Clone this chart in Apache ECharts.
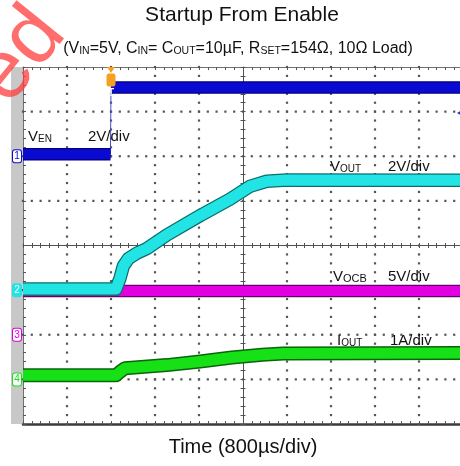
<!DOCTYPE html>
<html><head><meta charset="utf-8">
<script src="https://cdn.jsdelivr.net/npm/echarts@6/dist/echarts.min.js"></script>
<style>html,body{margin:0;padding:0;background:#fff}#c{width:460px;height:466px}</style>
</head><body><div id="c"></div>
<script>
// ---- Time base: µs relative to trigger, 800 µs/div ----
const timeMin = -1600, timeMax = 6400, timeStep = 800;
const vDivMin = -4, vDivMax = 4;
const timeDivLines = [-800, 0, 800, 1600, 3200, 4000, 4800, 5600];
const vDivLines = [-3, -2, -1, 1, 2, 3];
const minorPerDiv = 5;

// ---- Channel 1: V_EN (V), 2V/div ----
const venTime = [-1600, -10, 0, 6400];
const venV    = [0.09, 0.09, 3.08, 3.08];
// ---- Channel 2: V_OUT (V), 2V/div ----
const voutTime = [-1600, 90, 165, 225, 315, 465, 650, 1015, 1620, 2165, 2525, 2830, 3195, 6400];
const voutV    = [0.05, 0.05, 0.54, 1.08, 1.41, 1.65, 1.86, 2.47, 3.34, 4.08, 4.65, 4.88, 4.94, 4.92];
// ---- Channel 3: V_OCB (V), 5V/div ----
const vocbTime = [-1600, 6400];
const vocbV    = [4.9, 4.9];
// ---- Channel 4: I_OUT (A), 1A/div ----
const ioutTime = [-1600, 90, 165, 255, 1015, 1620, 2200, 2750, 3130, 6400];
const ioutA    = [0.09, 0.09, 0.17, 0.25, 0.32, 0.40, 0.49, 0.55, 0.58, 0.59];

// ---- Channel settings ----
const chNames  = ['1', '2', '3', '4'];
const chScale  = [2, 2, 5, 1];        // units per division
const chOffset = [2, -1, -2, -3];     // ground marker, divisions from screen centre
const triggerTime = 0;
const triggerLevelV = 1.94;

const FONT = 'Liberation Sans, Arial, sans-serif';
const fills    = ['#0a0ad2', '#22e4e4', '#e000e0', '#16e016'];
const outlines = ['#00007a', '#0a6e6e', '#6a006a', '#0a640a'];

function toDiv(ch, v) { return chOffset[ch] + v / chScale[ch]; }
function pts(ch, ts, vs) { return ts.map((t, i) => [t, toDiv(ch, vs[i])]); }
function splitSteps(p) {
  const out = [];
  p.forEach((q, i) => {
    if (i > 0 && Math.abs(q[1] - p[i - 1][1]) > 0.5 && Math.abs(q[0] - p[i - 1][0]) < 50) {
      out.push([(q[0] + p[i - 1][0]) / 2, '-']);
    }
    out.push(q);
  });
  return out;
}
function trace(name, data, color, width) {
  return {
    name, type: 'line', data, xAxisIndex: 0, yAxisIndex: 1,
    showSymbol: false, symbol: 'none', silent: true, animation: false,
    connectNulls: false,
    lineStyle: { color, width, cap: 'butt', join: 'round' }
  };
}

// graticule dots at 1/5-division steps along each division line
const gratDots = [];
timeDivLines.forEach(t => {
  for (let k = 0; k <= (vDivMax - vDivMin) * minorPerDiv; k++) gratDots.push([t, vDivMin + k / minorPerDiv]);
});
vDivLines.forEach(v => {
  const n = (timeMax - timeMin) / timeStep * minorPerDiv;
  for (let k = 0; k <= n; k++) gratDots.push([timeMin + k * timeStep / minorPerDiv, v]);
});

const venPts = pts(0, venTime, venV);
const voutPts = pts(1, voutTime, voutV);
const vocbPts = pts(2, vocbTime, vocbV);
const ioutPts = pts(3, ioutTime, ioutA);

const series = [
  { name: 'graticule', type: 'scatter', data: gratDots, xAxisIndex: 0, yAxisIndex: 1,
    symbol: 'rect', symbolSize: 2.2, silent: true, animation: false, z: 1,
    itemStyle: { color: '#555555', opacity: 1 } },
  trace('VEN edge', venPts, '#4a4ac8', 1),
  trace('VEN o', splitSteps(venPts), outlines[0], 12.5),
  Object.assign(trace('VEN', splitSteps(venPts), fills[0], 10), {
    markPoint: {
      silent: true, animation: false,
      data: [
        { coord: [triggerTime, vDivMax], symbol: 'triangle', symbolRotate: 180, symbolSize: [8, 6], symbolOffset: [0, 3],
          itemStyle: { color: '#f5a020' }, label: { show: false } },
        { coord: [triggerTime, vDivMax], symbol: 'roundRect', symbolSize: [9, 13], symbolOffset: [0, 13],
          itemStyle: { color: '#f5a020' },
          label: { show: true, formatter: 'T', color: '#fff', fontSize: 10, fontWeight: 'bold', fontFamily: FONT, offset: [0, 13] } },
        { coord: [timeMax, toDiv(0, triggerLevelV)], symbol: 'arrow', symbolRotate: 90, symbolSize: [7, 8], symbolOffset: [-6, 0],
          itemStyle: { color: '#1a3ad8' }, label: { show: false } }
      ]
    }
  }),
  trace('VOCB o', vocbPts, outlines[2], 12.5),
  trace('VOCB', vocbPts, fills[2], 10),
  trace('VOUT o', voutPts, outlines[1], 13.5),
  trace('VOUT', voutPts, fills[1], 11),
  trace('IOUT o', ioutPts, outlines[3], 14),
  trace('IOUT', ioutPts, fills[3], 11)
];

const tickCol = '#555';
function xAx(extra) {
  return Object.assign({
    type: 'value', min: timeMin, max: timeMax, interval: timeStep,
    axisLabel: { show: false }, splitLine: { show: false },
    axisTick: { show: true, inside: true, length: 3, lineStyle: { color: tickCol } },
    minorTick: { show: true, splitNumber: 5, length: 3, lineStyle: { color: tickCol } }
  }, extra);
}
function yAx(extra) {
  return Object.assign({
    type: 'value', min: vDivMin, max: vDivMax, interval: 1,
    axisLabel: { show: false }, splitLine: { show: false },
    axisTick: { show: true, inside: true, length: 3, lineStyle: { color: tickCol } },
    minorTick: { show: true, splitNumber: 5, length: 3, lineStyle: { color: tickCol } }
  }, extra);
}

const markerRich = {};
chNames.forEach((n, i) => {
  markerRich['c' + i] = {
    color: i === 1 ? '#ffffff' : fills[i], backgroundColor: i === 1 ? fills[1] : '#ffffff',
    borderColor: fills[i], borderWidth: 1, borderRadius: 2,
    width: 8, height: 12, lineHeight: 12, align: 'center', fontSize: 10, fontFamily: FONT
  };
});

const option = {
  animation: false,
  grid: { left: 23, top: 67, width: 440, height: 357, outerBoundsMode: 'none' },
  xAxis: [
    xAx({ position: 'bottom', axisLine: { show: true, onZero: false, lineStyle: { color: '#3c3c3c', width: 2.5 } },
      name: 'Time (800µs/div)', nameLocation: 'middle', nameGap: 13,
      nameTextStyle: { fontSize: 20, color: '#111', fontFamily: FONT } }),
    xAx({ position: 'top', axisLine: { show: true, onZero: false, lineStyle: { color: '#707070', width: 1 } } }),
    xAx({ position: 'bottom', axisLine: { show: true, onZero: true, onZeroAxisIndex: 1, lineStyle: { color: '#505050', width: 1 } },
      axisTick: { show: true, inside: true, length: 2.5, lineStyle: { color: '#505050' } },
      minorTick: { show: true, splitNumber: 5, length: 2.5, lineStyle: { color: '#505050' } } }),
    xAx({ position: 'bottom', axisLine: { show: false, onZero: true, onZeroAxisIndex: 1 },
      axisTick: { show: true, inside: false, length: 2.5, lineStyle: { color: '#505050' } },
      minorTick: { show: true, splitNumber: 5, length: 2.5, lineStyle: { color: '#505050' } } })
  ],
  yAxis: [
    yAx({ position: 'left', offset: 6, axisLine: { show: true, onZero: false, lineStyle: { color: '#c8c8c8', width: 12, cap: 'butt' } },
      axisTick: { show: false }, minorTick: { show: false } }),
    yAx({ position: 'left', axisLine: { show: true, onZero: false, lineStyle: { color: '#707070', width: 1 } },
      axisLabel: { show: true, margin: 2, formatter: v => { const i = chOffset.indexOf(Math.round(v)); return i < 0 ? '' : '{c' + i + '|' + chNames[i] + '}'; }, rich: markerRich } }),
    yAx({ position: 'left', offset: -220, axisLine: { show: true, onZero: false, lineStyle: { color: '#505050', width: 1 } },
      axisTick: { show: true, inside: true, length: 2.5, lineStyle: { color: '#505050' } },
      minorTick: { show: true, splitNumber: 5, length: 2.5, lineStyle: { color: '#505050' } } }),
    yAx({ position: 'left', offset: -220, axisLine: { show: false, onZero: false },
      axisTick: { show: true, inside: false, length: 2.5, lineStyle: { color: '#505050' } },
      minorTick: { show: true, splitNumber: 5, length: 2.5, lineStyle: { color: '#505050' } } })
  ],
  series,
  graphic: [
    { type: 'text', x: 242, y: 15, z: 50, style: { text: 'Startup From Enable', fontSize: 21, fill: '#111', fontFamily: FONT, align: 'center', verticalAlign: 'middle' } },
    { type: 'text', x: 238, y: 48, z: 50, style: {
      text: '{m|(V}{s|IN}{m|=5V, C}{s|IN}{m|= C}{s|OUT}{m|=10µF, R}{s|SET}{m|=154Ω, 10Ω Load)}',
      align: 'center', verticalAlign: 'middle', fontFamily: FONT,
      rich: { m: { fontSize: 16, lineHeight: 18, verticalAlign: 'bottom', fill: '#111', fontFamily: FONT },
              s: { fontSize: 10.5, lineHeight: 12.5, verticalAlign: 'bottom', fill: '#111', fontFamily: FONT } } } },
    ...[
      { x: 28, y: 136, t: '{m|V}{s|EN}' },
      { x: 88, y: 136, t: '{m|2V/div}' },
      { x: 330, y: 165.5, t: '{m|V}{s|OUT}' },
      { x: 388, y: 165.5, t: '{m|2V/div}' },
      { x: 333, y: 275.5, t: '{m|V}{l|OCB}' },
      { x: 388, y: 276, t: '{m|5V/div}' },
      { x: 337, y: 340, t: '{m|I}{s|OUT}' },
      { x: 390, y: 340, t: '{m|1A/div}' }
    ].map(a => ({ type: 'text', x: a.x, y: a.y, z: 50, style: {
      text: a.t, align: 'left', verticalAlign: 'middle', fontFamily: FONT,
      rich: { m: { fontSize: 15, lineHeight: 17, verticalAlign: 'bottom', fill: '#111', fontFamily: FONT },
              s: { fontSize: 10, lineHeight: 12, verticalAlign: 'bottom', fill: '#111', fontFamily: FONT },
              l: { fontSize: 11, lineHeight: 8, verticalAlign: 'bottom', fill: '#111', fontFamily: FONT } } } })),
    { type: 'text', x: 20, y: 56, rotation: 0.89, z: 100, style: { text: 'ed', fontSize: 84, fill: 'rgba(255,60,60,0.75)', fontFamily: FONT, align: 'center', verticalAlign: 'middle' } }
  ]
};
const chart = echarts.init(document.getElementById('c'), null, { renderer: 'canvas' });
chart.setOption(option);
</script></body></html>
